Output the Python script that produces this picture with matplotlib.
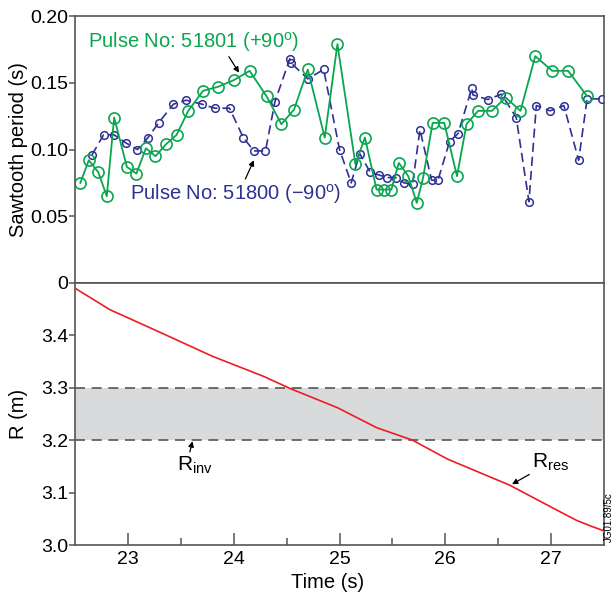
import numpy as np
import matplotlib
matplotlib.use('Agg')
import matplotlib.pyplot as plt

plt.rcParams['font.family'] = ['Liberation Sans', 'DejaVu Sans']
plt.rcParams['mathtext.fontset'] = 'custom'
plt.rcParams['mathtext.rm'] = 'Liberation Sans'
plt.rcParams['mathtext.it'] = 'Liberation Sans'

# pulse 51801 (+90 deg), sawtooth period
green_t = [22.55, 22.63, 22.72, 22.80, 22.87, 22.99, 23.08, 23.17, 23.26, 23.36,
           23.46, 23.57, 23.71, 23.85, 24.00, 24.15, 24.31, 24.45, 24.57, 24.70,
           24.86, 24.98, 25.15, 25.24, 25.35, 25.42, 25.49, 25.56, 25.65, 25.73,
           25.79, 25.88, 25.99, 26.11, 26.20, 26.31, 26.44, 26.57, 26.71, 26.85,
           27.01, 27.16, 27.34]
green_v = [0.075, 0.092, 0.083, 0.065, 0.124, 0.087, 0.082, 0.101, 0.095, 0.104,
           0.111, 0.129, 0.144, 0.147, 0.152, 0.159, 0.140, 0.119, 0.130, 0.160,
           0.109, 0.179, 0.089, 0.109, 0.070, 0.070, 0.070, 0.090, 0.080, 0.060,
           0.079, 0.120, 0.120, 0.080, 0.119, 0.129, 0.129, 0.139, 0.129, 0.170,
           0.159, 0.159, 0.140]

# pulse 51800 (-90 deg)
blue_t = [22.66, 22.77, 22.87, 22.98, 23.09, 23.19, 23.29, 23.43, 23.55, 23.70,
          23.82, 23.96, 24.09, 24.19, 24.30, 24.39, 24.53, 24.54, 24.70, 24.85,
          25.00, 25.11, 25.19, 25.29, 25.37, 25.45, 25.53, 25.61, 25.69, 25.76,
          25.87, 25.93, 26.04, 26.12, 26.25, 26.26, 26.40, 26.53, 26.67, 26.79,
          26.86, 26.99, 27.12, 27.26, 27.34, 27.48]
blue_v = [0.096, 0.111, 0.111, 0.105, 0.100, 0.109, 0.120, 0.134, 0.137, 0.134,
          0.131, 0.131, 0.109, 0.099, 0.099, 0.136, 0.168, 0.165, 0.153, 0.160,
          0.100, 0.075, 0.097, 0.083, 0.081, 0.079, 0.079, 0.075, 0.074, 0.115,
          0.077, 0.077, 0.106, 0.112, 0.146, 0.141, 0.1375, 0.1415, 0.124, 0.061,
          0.133, 0.129, 0.133, 0.092, 0.138, 0.138]

# resonance radius
r_t = [22.5, 22.83, 23.28, 23.80, 24.28, 24.54, 24.98, 25.35, 25.69, 26.02,
       26.61, 27.06, 27.24, 27.39, 27.5]
r_v = [3.490, 3.449, 3.408, 3.360, 3.322, 3.298, 3.262, 3.224, 3.200, 3.164,
       3.114, 3.066, 3.047, 3.035, 3.027]

r_inv_band = (3.2, 3.3)

green = '#0aa64f'
blue = '#2e3192'
spine_col = '#555555'

fig = plt.figure(figsize=(6.16, 5.97), dpi=100)
ax1 = fig.add_axes([0.1218, 0.526, 0.8588, 0.447])
ax2 = fig.add_axes([0.1218, 0.0871, 0.8588, 0.4389])

for ax in (ax1, ax2):
    for s in ax.spines.values():
        s.set_color(spine_col)
        s.set_linewidth(1.2)
    ax.set_xlim(22.5, 27.5)
    ax.tick_params(axis='y', direction='out', length=4, width=1.1, color=spine_col,
                   labelsize=14, pad=1)

# top panel
ax1.plot(blue_t, blue_v, color=blue, lw=1.2, dashes=(5.5, 3), marker='o', ms=5.5,
         mfc='none', mec=blue, mew=1.1)
ax1.plot(green_t, green_v, color=green, lw=1.3, marker='o', ms=8,
         mfc='none', mec=green, mew=1.2)
ax1.set_ylim(0, 0.2)
ax1.set_yticks([0, 0.05, 0.10, 0.15, 0.20])
ax1.set_yticklabels(['0', '0.05', '0.10', '0.15', '0.20'])
ax1.tick_params(axis='x', bottom=False, labelbottom=False)
ax1.set_ylabel('Sawtooth period (s)', fontsize=14.5)
ax1.yaxis.set_label_coords(-0.088, 0.5)

ax1.annotate('Pulse No: 51801 (+90$^{\\mathrm{o}}$)', xy=(24.05, 0.1576),
             xytext=(22.62, 0.1807), color=green, fontsize=14.5, va='center',
             arrowprops=dict(arrowstyle='-|>', color='black', lw=0.9,
                             mutation_scale=8, shrinkA=0, shrinkB=0,
                             relpos=(0.66, 0.0)))
ax1.annotate('Pulse No: 51800 (\u221290$^{\\mathrm{o}}$)', xy=(24.19, 0.092),
             xytext=(23.02, 0.0668), color=blue, fontsize=14.5, va='center',
             arrowprops=dict(arrowstyle='-|>', color='black', lw=0.9,
                             mutation_scale=8, shrinkA=0, shrinkB=0,
                             relpos=(0.54, 1.0)))

# bottom panel
ax2.axhspan(r_inv_band[0], r_inv_band[1], color='#d9dadc', lw=0)
for yv in r_inv_band:
    ax2.axhline(yv, color='#555555', lw=1.2, dashes=(6, 4))
ax2.plot(r_t, r_v, color='#ee1c24', lw=1.2)
ax2.set_ylim(3.0, 3.5)
ax2.set_yticks([3.0, 3.1, 3.2, 3.3, 3.4])
ax2.set_yticklabels(['3.0', '3.1', '3.2', '3.3', '3.4'])
ax2.set_xticks([23, 24, 25, 26, 27])
ax2.set_xticks([23.5, 24.5, 25.5, 26.5], minor=True)
ax2.tick_params(axis='x', which='major', direction='in', length=9, width=1.1,
                color=spine_col, labelsize=14, pad=4)
ax2.tick_params(axis='x', which='minor', direction='in', length=5, width=1.1,
                color=spine_col)
ax2.set_ylabel('R (m)', fontsize=14.5)
ax2.yaxis.set_label_coords(-0.088, 0.5)
ax2.set_xlabel('Time (s)', fontsize=14.5)
ax2.xaxis.set_label_coords(0.478, -0.105)

ax2.annotate('R$_{\\mathrm{inv}}$', xy=(23.61, 3.198), xytext=(23.46, 3.152),
             fontsize=15, va='center', ha='left',
             arrowprops=dict(arrowstyle='-|>', color='black', lw=0.9,
                             mutation_scale=8, shrinkA=0, shrinkB=0,
                             relpos=(0.35, 1.0)))
ax2.annotate('R$_{\\mathrm{res}}$', xy=(26.63, 3.116), xytext=(26.82, 3.158),
             fontsize=15, va='center', ha='left',
             arrowprops=dict(arrowstyle='-|>', color='black', lw=0.9,
                             mutation_scale=8, shrinkA=0, shrinkB=0,
                             relpos=(0.0, 0.0)))

fig.text(0.997, 0.092, 'JG01.89/5c', rotation=90, fontsize=7, ha='right', va='bottom')

fig.savefig('out.png', dpi=100)
